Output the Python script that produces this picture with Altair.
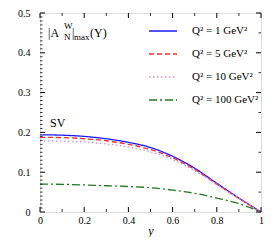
import altair as alt
import pandas as pd

# ---- data ----
xs = [0.0, 0.1, 0.2, 0.3, 0.4, 0.5, 0.6, 0.7, 0.8, 0.9, 1.0]
q1 = [0.194, 0.193, 0.190, 0.184, 0.175, 0.162, 0.140, 0.110, 0.072, 0.035, 0.0]
q5 = [0.1875, 0.187, 0.184, 0.179, 0.170, 0.157, 0.136, 0.107, 0.070, 0.034, 0.0]
q10 = [0.179, 0.178, 0.176, 0.171, 0.163, 0.151, 0.132, 0.104, 0.069, 0.034, 0.0]
q100 = [0.070, 0.0695, 0.068, 0.066, 0.064, 0.061, 0.055, 0.047, 0.035, 0.021, 0.0]
series = ["Q² = 1 GeV²", "Q² = 5 GeV²", "Q² = 10 GeV²", "Q² = 100 GeV²"]
colors = ["#1a1aff", "#ff2a2a", "#c58cff", "#1f7a1f"]
dashes = [[1, 0], [5, 3], [1.5, 2.5], [8, 3, 2, 3]]

x_ticks = [0, 0.2, 0.4, 0.6, 0.8, 1]
x_minor = [0.1, 0.3, 0.5, 0.7, 0.9]
y_ticks = [0, 0.1, 0.2, 0.3, 0.4, 0.5]
y_minor = [i / 100 for i in range(1, 50) if i % 10 != 0]
y_minor_right = [0.05, 0.15, 0.25, 0.35, 0.45]

W, H = 221, 199
FONT = "Liberation Serif"

rows = []
for name, vals in zip(series, [q1, q5, q10, q100]):
    for x, v in zip(xs, vals):
        rows.append({"x": x, "v": v, "s": name})
df = pd.DataFrame(rows)

xscale = alt.Scale(domain=[0, 1], nice=False, zero=False)
yscale = alt.Scale(domain=[0, 0.5], nice=False, zero=False)

xaxis = alt.Axis(values=x_ticks, format="~g", title="y", titleFontStyle="italic",
                 titleFont=FONT, titleFontSize=12, titleFontWeight="normal",
                 titlePadding=0, labelFont=FONT, labelFontSize=10, labelPadding=3,
                 labelOverlap=False, labelFlush=False,
                 ticks=False, domain=False, grid=False, labelColor="black")
yaxis = alt.Axis(values=y_ticks, format="~g", title=None, labelFont=FONT,
                 labelFontSize=10, labelPadding=10, ticks=False, domain=False,
                 labelOverlap=False, labelFlush=False,
                 grid=False, labelColor="black")

lines = alt.Chart(df).mark_line(strokeWidth=1.3, interpolate="monotone").encode(
    x=alt.X("x:Q", scale=xscale, axis=xaxis),
    y=alt.Y("v:Q", scale=yscale, axis=yaxis),
    color=alt.Color("s:N", scale=alt.Scale(domain=series, range=colors),
                    legend=alt.Legend(title=None, orient="none", legendX=108, legendY=3,
                                      symbolType="stroke", symbolSize=784, symbolStrokeWidth=1.3,
                                      labelFont=FONT, labelFontSize=11, labelOffset=14,
                                      rowPadding=3, labelColor="black")),
    strokeDash=alt.StrokeDash("s:N", scale=alt.Scale(domain=series, range=dashes), legend=None),
)

# inward ticks
left_major = alt.Chart(pd.DataFrame({"t": y_ticks})).mark_rule(color="black", strokeWidth=1).encode(
    y=alt.Y("t:Q", scale=yscale, axis=yaxis), x=alt.value(0), x2=alt.value(5))
left_minor = alt.Chart(pd.DataFrame({"t": y_minor})).mark_rule(color="black", strokeWidth=0.8).encode(
    y=alt.Y("t:Q", scale=yscale, axis=yaxis), x=alt.value(0), x2=alt.value(2.5))
right_major = alt.Chart(pd.DataFrame({"t": y_ticks})).mark_rule(color="black", strokeWidth=1).encode(
    y=alt.Y("t:Q", scale=yscale, axis=yaxis), x=alt.value(W - 5), x2=alt.value(W))
right_minor = alt.Chart(pd.DataFrame({"t": y_minor_right})).mark_rule(color="black", strokeWidth=0.8).encode(
    y=alt.Y("t:Q", scale=yscale, axis=yaxis), x=alt.value(W - 2.5), x2=alt.value(W))
bot_major = alt.Chart(pd.DataFrame({"t": x_ticks})).mark_rule(color="black", strokeWidth=1).encode(
    x=alt.X("t:Q", scale=xscale, axis=xaxis), y=alt.value(H), y2=alt.value(H - 5))
bot_minor = alt.Chart(pd.DataFrame({"t": x_minor})).mark_rule(color="black", strokeWidth=0.8).encode(
    x=alt.X("t:Q", scale=xscale, axis=xaxis), y=alt.value(H), y2=alt.value(H - 3))
top_major = alt.Chart(pd.DataFrame({"t": x_ticks})).mark_rule(color="black", strokeWidth=1).encode(
    x=alt.X("t:Q", scale=xscale, axis=xaxis), y=alt.value(0), y2=alt.value(5))
top_minor = alt.Chart(pd.DataFrame({"t": x_minor})).mark_rule(color="black", strokeWidth=0.8).encode(
    x=alt.X("t:Q", scale=xscale, axis=xaxis), y=alt.value(0), y2=alt.value(3))


def txt(s, x, y, size):
    return alt.Chart(pd.DataFrame({"a": [s]})).mark_text(
        font=FONT, fontSize=size, align="left", baseline="alphabetic", color="black"
    ).encode(text="a:N", x=alt.value(x), y=alt.value(y))


annot = [
    txt("|A", 8, 24, 12),
    txt("W", 24, 16, 9),
    txt("N", 24, 27, 9),
    txt("|", 32, 24, 12),
    txt("max", 34, 27, 9),
    txt("(Y)", 50, 24, 12),
    txt("SV", 10, 114, 12),
]

chart = alt.layer(
    lines, left_major, left_minor, right_major, right_minor,
    bot_major, bot_minor, top_major, top_minor, *annot
).properties(
    width=W, height=H,
    autosize=alt.AutoSizeParams(type="none"),
    padding={"left": 32, "top": 5, "right": 11, "bottom": 25},
).configure_view(stroke="black", strokeWidth=1.2).configure_axis(
    labelOverlap=False
).configure(background="white")

chart.save("out.html", embed_options={"renderer": "svg", "actions": False})
